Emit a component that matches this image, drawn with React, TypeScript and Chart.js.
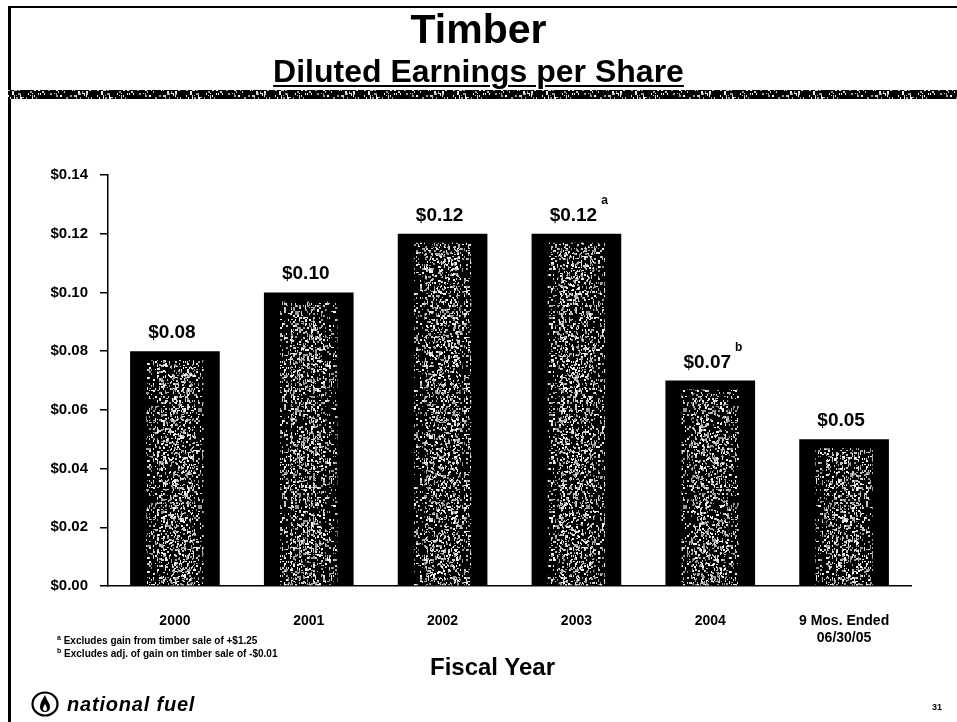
import React, { useEffect, useRef } from "react";
import { Chart, registerables } from "chart.js";

Chart.register(...registerables);

const categories: (string | string[])[] = ["2000", "2001", "2002", "2003", "2004", ["9 Mos. Ended", "06/30/05"]];
const epsValues: number[] = [0.08, 0.1, 0.12, 0.12, 0.07, 0.05];
const superscripts: string[] = ["", "", "", "a", "b", ""];
const yTicks: number[] = [0, 0.02, 0.04, 0.06, 0.08, 0.1, 0.12, 0.14];
const footnotes: [string, string][] = [
  ["a", "Excludes gain from timber sale of +$1.25"],
  ["b", "Excludes adj. of gain on timber sale of -$0.01"],
];

const FONT = '"Liberation Sans", Arial, Helvetica, sans-serif';

function hash(n: number): number {
  let x = (n ^ 0x5bd1e995) >>> 0;
  x = Math.imul(x ^ (x >>> 15), 0x2c1b3c6d) >>> 0;
  x = Math.imul(x ^ (x >>> 12), 0x297a2d39) >>> 0;
  x = (x ^ (x >>> 15)) >>> 0;
  return x % 1000;
}

function makeSpeckle(size: number, light: number, seed: number): HTMLCanvasElement {
  const c = document.createElement("canvas");
  c.width = size;
  c.height = size;
  const g = c.getContext("2d")!;
  for (let y = 0; y < size; y += 2) {
    for (let x = 0; x < size; x += 2) {
      const h = hash(seed + x * 7919 + y * 104729);
      if (h < light) {
        g.fillStyle = h % 3 === 0 ? "#f2f2f2" : h % 3 === 1 ? "#c8c8c8" : "#9a9a9a";
        g.fillRect(x, y, h % 2 === 0 ? 2 : 1, h % 5 === 0 ? 1 : 2);
      }
    }
  }
  return c;
}

export default function App() {
  const ref = useRef<HTMLCanvasElement>(null);

  useEffect(() => {
    const canvas = ref.current!;
    const ctx0 = canvas.getContext("2d")!;
    const barPattern = ctx0.createPattern(makeSpeckle(97, 330, 11), "repeat")!;
    const barPatternCore = ctx0.createPattern(makeSpeckle(83, 260, 23), "repeat")!;
    const bandPattern = ctx0.createPattern(makeSpeckle(89, 300, 77), "repeat")!;

    const decorPlugin = {
      id: "decor",
      beforeDraw(chart: any) {
        const c = chart.ctx;
        c.save();
        c.fillStyle = "#fff";
        c.fillRect(0, 0, chart.width, chart.height);
        c.fillStyle = "#000";
        c.fillRect(8, 6, 949, 2);
        c.fillRect(8, 6, 3, 716);
        c.fillRect(8, 90, 949, 9);
        c.fillStyle = bandPattern;
        c.fillRect(8, 90, 949, 9);
        c.restore();
      },
    };

    const barTexturePlugin = {
      id: "barTexture",
      afterDatasetsDraw(chart: any) {
        const c = chart.ctx;
        const meta = chart.getDatasetMeta(0);
        c.save();
        meta.data.forEach((bar: any) => {
          const w = bar.width;
          const top = bar.y + 9;
          const h = bar.base - top;
          if (h <= 0) return;
          c.fillStyle = barPattern;
          c.fillRect(bar.x - w * 0.32, top, w * 0.64, h);
          c.fillStyle = barPatternCore;
          c.fillRect(bar.x - w * 0.2, top + 4, w * 0.4, h - 4);
        });
        c.restore();
      },
    };

    const valueLabelPlugin = {
      id: "valueLabels",
      afterDatasetsDraw(chart: any) {
        const c = chart.ctx;
        const meta = chart.getDatasetMeta(0);
        c.save();
        c.fillStyle = "#000";
        meta.data.forEach((bar: any, i: number) => {
          const text = "$" + epsValues[i].toFixed(2);
          c.font = `bold 19px ${FONT}`;
          c.textAlign = "center";
          c.textBaseline = "alphabetic";
          const w = c.measureText(text).width;
          c.fillText(text, bar.x - 3, bar.y - 13);
          if (superscripts[i]) {
            c.font = `bold 12px ${FONT}`;
            c.textAlign = "left";
            c.fillText(superscripts[i], bar.x - 3 + w / 2 + 4, bar.y - 30);
          }
        });
        c.restore();
      },
    };

    const chart = new Chart(canvas, {
      type: "bar",
      data: {
        labels: categories,
        datasets: [
          {
            data: epsValues,
            backgroundColor: "#000",
            borderWidth: 0,
            barPercentage: 0.67,
            categoryPercentage: 1,
          },
        ],
      },
      options: {
        responsive: false,
        animation: false,
        devicePixelRatio: 1,
        layout: { padding: { left: 0, top: 175, right: 46, bottom: 66 } },
        plugins: { legend: { display: false }, tooltip: { enabled: false }, title: { display: false } },
        scales: {
          x: {
            grid: { display: false, drawTicks: false },
            border: { display: true, color: "#000", width: 1.5 },
            ticks: {
              color: "#000",
              font: { family: FONT, size: 14, weight: "bold", lineHeight: 1.25 },
              padding: 26,
              maxRotation: 0,
              autoSkip: false,
              callback: (_v: any, i: number) => categories[i],
            },
            afterFit: (s: any) => {
              s.height = 70;
            },
          },
          y: {
            min: 0,
            max: 0.14,
            grid: { display: true, drawOnChartArea: false, drawTicks: true, tickLength: 8, color: "#000", lineWidth: 1.5 },
            border: { display: true, color: "#000", width: 1.5 },
            afterBuildTicks: (s: any) => {
              s.ticks = yTicks.map((v) => ({ value: v }));
            },
            ticks: {
              color: "#000",
              font: { family: FONT, size: 15, weight: "bold" },
              padding: 12,
              callback: (v: any) => "$" + Number(v).toFixed(2),
            },
            afterFit: (s: any) => {
              s.width = 108;
            },
          },
        },
      },
      plugins: [decorPlugin, barTexturePlugin, valueLabelPlugin],
    });
    return () => chart.destroy();
  }, []);

  const abs = (o: React.CSSProperties): React.CSSProperties => ({ position: "absolute", margin: 0, ...o });

  return (
    <div style={{ position: "absolute", left: 0, top: 0, width: 957, height: 722, overflow: "hidden", background: "#fff", fontFamily: FONT, color: "#000" }}>
      <canvas ref={ref} width={957} height={722} style={{ position: "absolute", left: 0, top: 0, width: 957, height: 722 }} />
      <div style={abs({ left: 0, width: 957, top: 6, textAlign: "center", fontWeight: "bold", fontSize: 41, lineHeight: "46px" })}>Timber</div>
      <div style={abs({ left: 0, width: 957, top: 53, textAlign: "center", fontWeight: "bold", fontSize: 32, lineHeight: "36px" })}>
        <span style={{ textDecoration: "underline", textDecorationThickness: 2, textUnderlineOffset: 3 }}>Diluted Earnings per Share</span>
      </div>
      {footnotes.map(([mark, text], i) => (
        <div key={i} style={abs({ left: 57, top: 632 + i * 13, fontWeight: "bold", fontSize: 10, lineHeight: "12px", whiteSpace: "nowrap" })}>
          <sup style={{ fontSize: 7 }}>{mark}</sup> {text}
        </div>
      ))}
      <div style={abs({ left: 430, top: 653, fontWeight: "bold", fontSize: 24, lineHeight: "28px", whiteSpace: "nowrap" })}>Fiscal Year</div>
      <div style={abs({ left: 31, top: 691, display: "flex", alignItems: "center", gap: 8 })}>
        <svg width="28" height="26" viewBox="0 0 28 26">
          <ellipse cx="14" cy="13" rx="12.5" ry="11.5" fill="none" stroke="#000" strokeWidth="2.2" />
          <path d="M14 4 C11 9 9 12 9 16 C9 19 11 21 14 21 C17 21 19 19 19 16 C19 12 16 10 14 4 Z" fill="#000" />
          <path d="M14 13 C13 15 12 16 12 18 C12 19 13 20 14 20 C15 20 16 19 16 18 C16 16 15 15 14 13 Z" fill="#fff" />
        </svg>
        <span style={{ fontWeight: "bold", fontStyle: "italic", fontSize: 20, letterSpacing: 0.8 }}>national fuel</span>
      </div>
      <div style={abs({ left: 932, top: 702, fontWeight: "bold", fontSize: 9 })}>31</div>
    </div>
  );
}
